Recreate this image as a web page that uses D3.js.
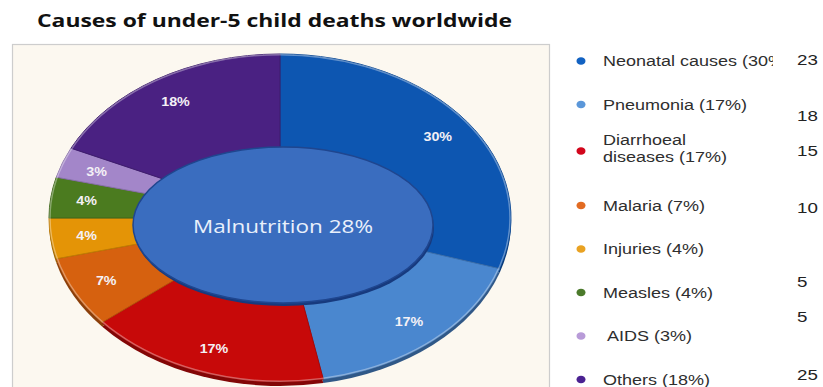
<!DOCTYPE html>
<html>
<head>
<meta charset="utf-8">
<script src="https://cdn.jsdelivr.net/npm/d3@7"></script>
<style>
  body { margin: 0; background: #ffffff; }
  svg { display: block; }
</style>
</head>
<body>
<svg id="chart" width="823" height="387"></svg>
<script>
// ---- data ----
const causes = ["Neonatal causes", "Pneumonia", "Diarrhoeal diseases", "Malaria",
                "Injuries", "Measles", "AIDS", "Others"];
const shares = [30, 17, 17, 7, 4, 4, 3, 18];
const legendLabels = [
  ["Neonatal causes (30%)"],
  ["Pneumonia (17%)"],
  ["Diarrhoeal", "diseases (17%)"],
  ["Malaria (7%)"],
  ["Injuries (4%)"],
  ["Measles (4%)"],
  ["AIDS (3%)"],
  ["Others (18%)"]
];
const sideNumbers = [23, 18, 15, 10, null, 5, 5, 25];
const centreLabel = "Malnutrition";
const centreShare = 28;
const titleText = "Causes of under-5 child deaths worldwide";

// ---- styling ----
const sliceColors = ["#0d56b1", "#4a87cf", "#c70909", "#d6610f",
                     "#e49406", "#4b7b1f", "#a386c9", "#4a2182"];
const dotColors   = ["#1262c2", "#5b97d9", "#d2061c", "#e26b22",
                     "#e9a222", "#4b7a2b", "#b89bd8", "#4a2191"];

const svg = d3.select("#chart");

// title
svg.append("text")
  .attr("x", 37).attr("y", 27)
  .attr("textLength", 475).attr("lengthAdjust", "spacingAndGlyphs")
  .style("font-family", "'Open Sans', 'DejaVu Sans', sans-serif")
  .style("font-weight", 700).style("font-size", "17.5px")
  .attr("fill", "#111")
  .text(titleText);

// panel behind the doughnut
svg.append("rect")
  .attr("x", 12.5).attr("y", 44.5).attr("width", 537).attr("height", 360)
  .attr("fill", "#fcf8f0").attr("stroke", "#cdcdcd").attr("stroke-width", 1.2);

// ---- doughnut geometry (tilted: outer ring squashed vertically) ----
const cx = 280, cy = 218, rOuter = 231, tilt = 164 / 231;
const pie = d3.pie().sort(null).value(d => d);
const arcs = pie(shares);
const arc = d3.arc().innerRadius(0).outerRadius(rOuter);
const labelArc = d3.arc().innerRadius(195).outerRadius(195);

// rim under the ring for the 3-D thickness
const rim = svg.append("g")
  .attr("transform", `translate(${cx},${cy + 4}) scale(1,${tilt})`);
rim.selectAll("path").data(arcs).join("path")
  .attr("d", arc)
  .attr("fill", (d, i) => d3.color(sliceColors[i]).darker(1.2));

const ring = svg.append("g")
  .attr("transform", `translate(${cx},${cy}) scale(1,${tilt})`);
ring.selectAll("path").data(arcs).join("path")
  .attr("d", arc)
  .attr("fill", (d, i) => sliceColors[i])
  .attr("stroke", (d, i) => d3.color(sliceColors[i]).darker(0.5))
  .attr("stroke-width", 1)
  .attr("vector-effect", "non-scaling-stroke");
// soft highlight along the outer edge
ring.append("circle")
  .attr("r", rOuter - 1)
  .attr("fill", "none")
  .attr("stroke", "rgba(255,255,255,0.35)")
  .attr("stroke-width", 1.5)
  .attr("vector-effect", "non-scaling-stroke");

// percentage labels on the slices
svg.append("g").selectAll("text").data(arcs).join("text")
  .attr("transform", d => {
    const [x, y] = labelArc.centroid(d);
    return `translate(${cx + x},${cy + y * tilt}) scale(1.1,1)`;
  })
  .attr("text-anchor", "middle").attr("dy", "0.35em")
  .style("font-family", "'Liberation Sans', Arial, sans-serif")
  .style("font-weight", 700).style("font-size", "13px")
  .attr("fill", "#f4f1f6")
  .text(d => `${d.data}%`);

// raised centre disc: malnutrition
const disc = { x: 283, y: 225, rx: 150, ry: 78 };
svg.append("ellipse")
  .attr("cx", disc.x + 1).attr("cy", disc.y + 3)
  .attr("rx", disc.rx).attr("ry", disc.ry)
  .attr("fill", "#173a7e");
svg.append("ellipse")
  .attr("cx", disc.x).attr("cy", disc.y)
  .attr("rx", disc.rx).attr("ry", disc.ry)
  .attr("fill", "#3a6dbf").attr("stroke", "#1f468f").attr("stroke-width", 1.5);
svg.append("text")
  .attr("x", disc.x).attr("y", disc.y + 8)
  .attr("text-anchor", "middle")
  .attr("textLength", 180).attr("lengthAdjust", "spacingAndGlyphs")
  .style("font-family", "'Open Sans', 'DejaVu Sans', sans-serif")
  .style("font-size", "18.5px")
  .attr("fill", "#e9f0fb")
  .text(`${centreLabel} ${centreShare}%`);

// ---- legend ----
svg.append("defs").append("clipPath").attr("id", "legendClip")
  .append("rect").attr("x", 560).attr("y", 40).attr("width", 213).attr("height", 347);

const rowGap = 43.5, lineGap = 17;
let yPos = 61;
const rowY = legendLabels.map((lines) => {
  const y = yPos;
  yPos += rowGap + (lines.length - 1) * 14;
  return y;
});
// vertical nudges of the side figures relative to their rows
const sideShift = [-1, 11, 3, 2, 0, -11, -19, -5];

const legend = svg.append("g");
const textStyle = sel => sel
  .style("font-family", "'Liberation Sans', Arial, sans-serif")
  .style("font-size", "15px");

legendLabels.forEach((lines, i) => {
  const y = rowY[i];
  const dotY = lines.length > 1 ? y + 3 : y;
  legend.append("ellipse")
    .attr("cx", 581).attr("cy", dotY).attr("rx", 4.5).attr("ry", 3.8)
    .attr("fill", dotColors[i]);
  const t = legend.append("g").attr("clip-path", "url(#legendClip)")
    .append("text")
    .attr("transform", `translate(${i === 6 ? 607 : 603},${y}) scale(1.2,1)`)
    .attr("fill", "#2e2e2e")
    .call(textStyle);
  lines.forEach((ln, k) => {
    t.append("tspan").attr("x", 0).attr("y", k * lineGap - (lines.length - 1) * lineGap / 2 + 5).text(ln);
  });
  if (sideNumbers[i] !== null) {
    legend.append("text")
      .attr("transform", `translate(797,${y + sideShift[i] + 5}) scale(1.25,1)`)
      .attr("fill", "#222")
      .style("font-family", "'Liberation Sans', Arial, sans-serif")
      .style("font-size", "15px")
      .text(sideNumbers[i]);
  }
});
</script>
</body>
</html>
